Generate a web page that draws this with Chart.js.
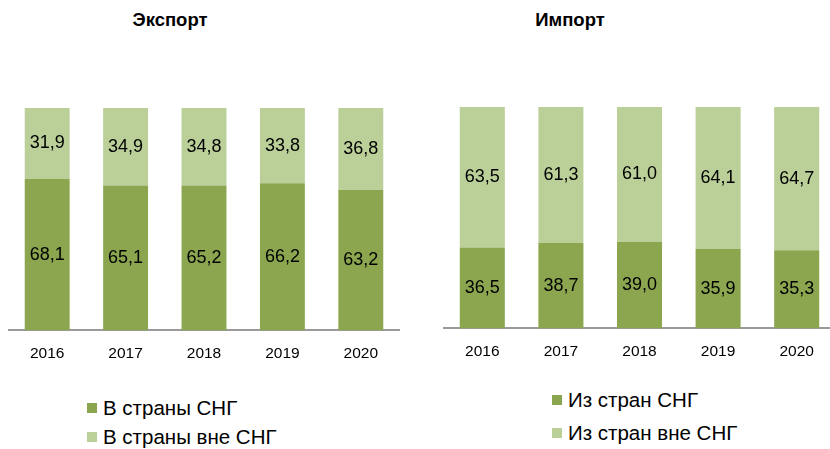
<!DOCTYPE html>
<html>
<head>
<meta charset="utf-8">
<script src="https://cdn.jsdelivr.net/npm/chart.js@4/dist/chart.umd.min.js"></script>
<style>
  html, body { margin: 0; padding: 0; background: #fff; overflow: hidden; }
  body { width: 830px; height: 449px; position: relative; font-family: "Liberation Sans", Arial, sans-serif; }
  .box { position: absolute; }
  .title { position: absolute; font-weight: bold; font-size: 18.5px; color: #000; transform: translateX(-50%); white-space: nowrap; }
  .legend { position: absolute; font-size: 20.5px; color: #000; }
  .legend div { position: relative; line-height: 22px; white-space: nowrap; padding-left: 16px; }
  .legend span { position: absolute; left: 0; top: 6px; width: 10px; height: 10px; }
</style>
</head>
<body>
<div class="title" style="left:170px; top:9px;">Экспорт</div>
<div class="title" style="left:570px; top:9px;">Импорт</div>
<div class="box" style="left:8px; top:100px; width:392px; height:269px;"><canvas id="exportChart"></canvas></div>
<div class="box" style="left:443px; top:99px; width:393px; height:268px;"><canvas id="importChart"></canvas></div>
<div class="legend" id="exportLegend" style="left:87px; top:397px;"></div>
<div class="legend" id="importLegend" style="left:552px; top:389px;"></div>
<script>
const years = ["2016", "2017", "2018", "2019", "2020"];
const exportCis = [68.1, 65.1, 65.2, 66.2, 63.2];
const exportNonCis = [31.9, 34.9, 34.8, 33.8, 36.8];
const importCis = [36.5, 38.7, 39.0, 35.9, 35.3];
const importNonCis = [63.5, 61.3, 61.0, 64.1, 64.7];

const darkGreen = "#8ba64f";
const lightGreen = "#bbcf98";
const fontFamily = "'Liberation Sans', Arial, sans-serif";

// value labels in the middle of each segment
const barLabels = {
  id: "barLabels",
  afterDatasetsDraw(chart) {
    const ctx = chart.ctx;
    ctx.save();
    ctx.font = "18px " + fontFamily;
    ctx.fillStyle = "#000";
    ctx.textAlign = "center";
    ctx.textBaseline = "middle";
    chart.data.datasets.forEach((ds, i) => {
      chart.getDatasetMeta(i).data.forEach((bar, j) => {
        const txt = ds.data[j].toFixed(1).replace(".", ",");
        ctx.fillText(txt, bar.x, (bar.y + bar.base) / 2);
      });
    });
    ctx.restore();
  }
};

function makeChart(id, legendId, labels, values, rowGap) {
  const datasets = [
    { label: labels[0], data: values[0], backgroundColor: darkGreen },
    { label: labels[1], data: values[1], backgroundColor: lightGreen }
  ];
  new Chart(document.getElementById(id), {
    type: "bar",
    data: { labels: years, datasets: datasets },
    options: {
      responsive: true,
      maintainAspectRatio: false,
      animation: false,
      layout: { padding: { top: 8, left: 0, right: 0, bottom: 0 } },
      datasets: { bar: { categoryPercentage: 1, barPercentage: 0.573 } },
      plugins: { legend: { display: false }, tooltip: { enabled: false } },
      scales: {
        x: {
          stacked: true,
          grid: { display: false },
          border: { display: true, color: "#9a9a9a", width: 2 },
          ticks: { color: "#000", padding: 6, font: { family: fontFamily, size: 15.5 } }
        },
        y: { stacked: true, display: false, min: 0, max: 100 }
      }
    },
    plugins: [barLabels]
  });

  const legend = document.getElementById(legendId);
  datasets.forEach(ds => {
    const row = document.createElement("div");
    row.style.height = rowGap + "px";
    const sw = document.createElement("span");
    sw.style.background = ds.backgroundColor;
    row.appendChild(sw);
    row.appendChild(document.createTextNode(ds.label));
    legend.appendChild(row);
  });
}

makeChart("exportChart", "exportLegend", ["В страны СНГ", "В страны вне СНГ"], [exportCis, exportNonCis], 29);
makeChart("importChart", "importLegend", ["Из стран СНГ", "Из стран вне СНГ"], [importCis, importNonCis], 33);
</script>
</body>
</html>
